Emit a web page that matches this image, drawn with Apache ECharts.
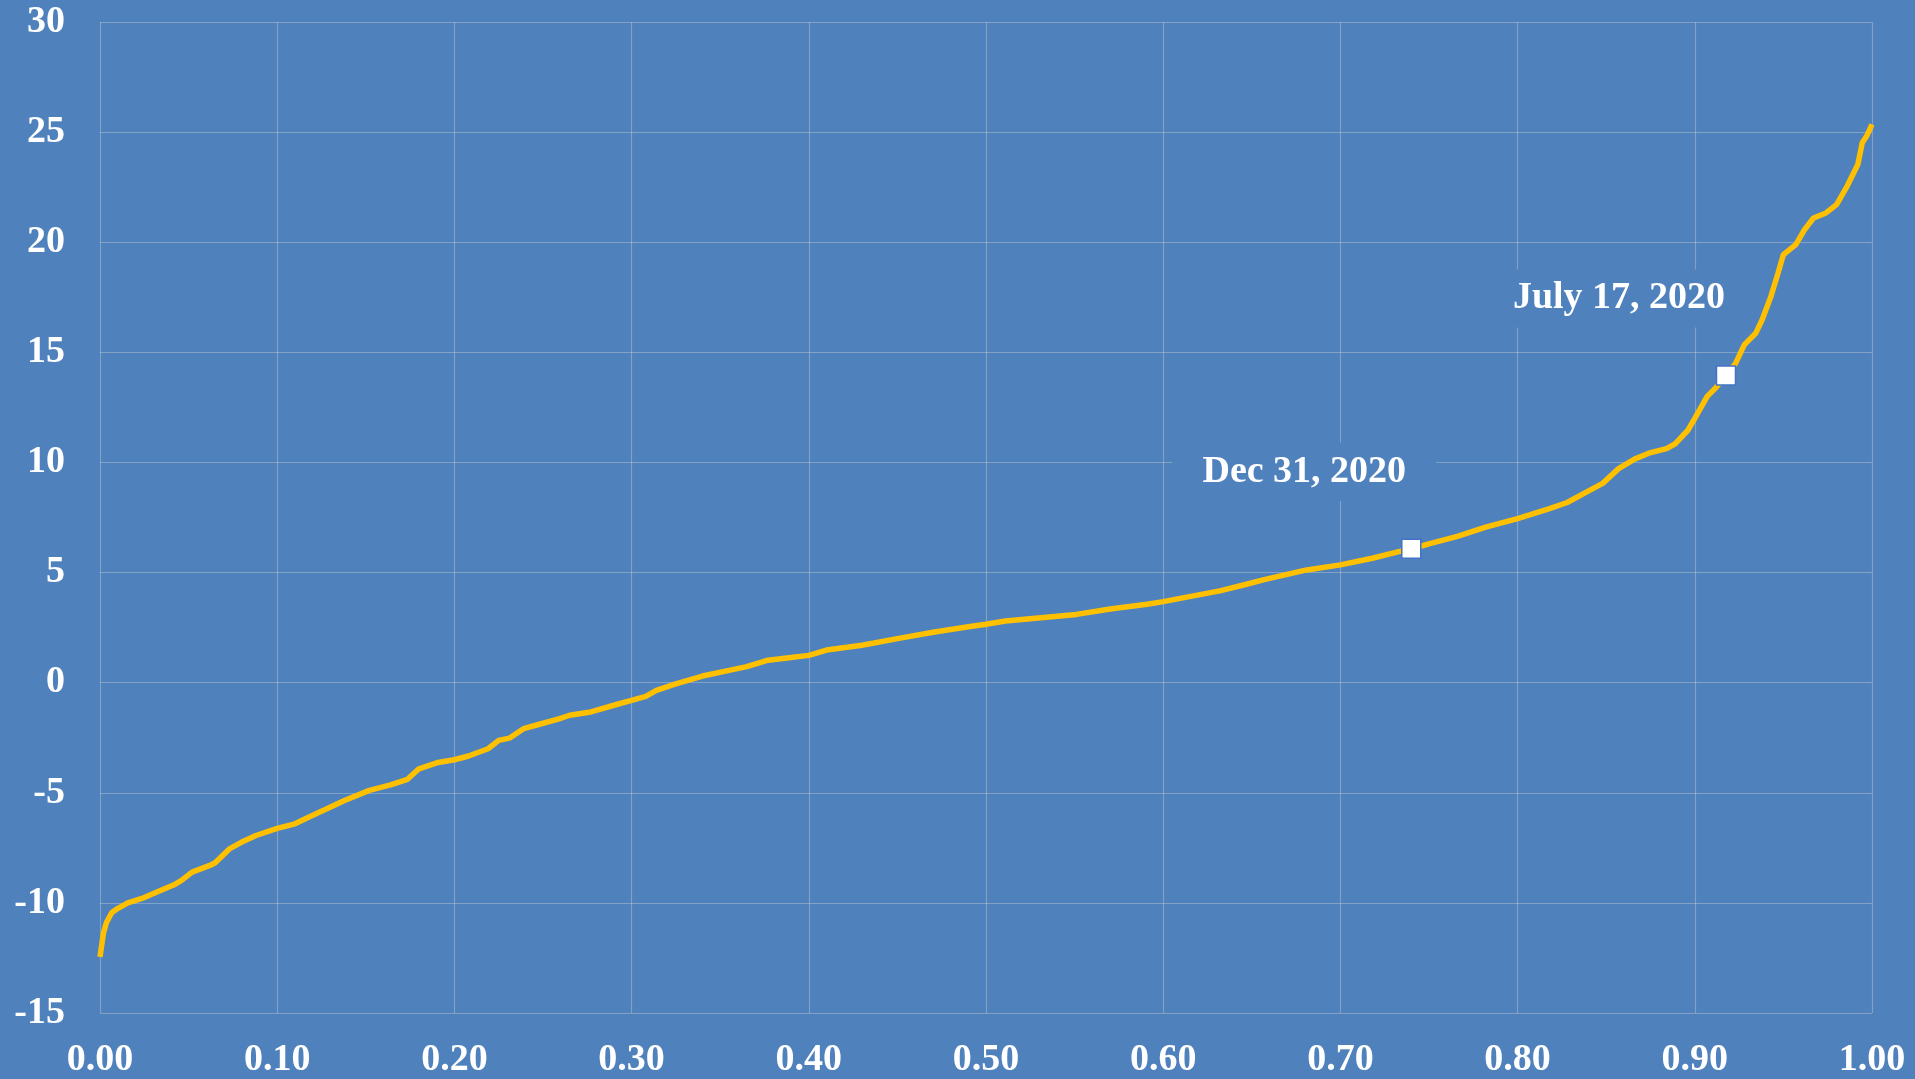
<!DOCTYPE html>
<html>
<head>
<meta charset="utf-8">
<script src="https://cdn.jsdelivr.net/npm/echarts@6/dist/echarts.min.js"></script>
<style>
html,body{margin:0;padding:0;background:#4F81BD;}
#chart{width:1915px;height:1079px;}
</style>
</head>
<body>
<div id="chart"></div>
<script>
// Share of observations (cumulative fraction)
const pct = [
0.000,0.002,0.0036,0.0066,0.0097,0.0157,0.0237,0.0318,0.0418,0.046,
0.052,0.062,0.065,0.073,0.080,0.088,0.100,0.110,0.118,0.128,
0.138,0.152,0.164,0.1735,0.180,0.190,0.200,0.208,0.219,0.225,
0.231,0.239,0.247,0.259,0.265,0.277,0.292,0.300,0.308,0.314,
0.324,0.340,0.355,0.365,0.377,0.390,0.400,0.410,0.430,0.450,
0.471,0.491,0.500,0.511,0.531,0.551,0.571,0.591,0.600,0.617,
0.632,0.647,0.657,0.681,0.700,0.718,0.733,0.740,0.750,0.766,
0.782,0.800,0.818,0.828,0.838,0.848,0.857,0.866,0.874,0.884,
0.889,0.893,0.896,0.900,0.907,0.912,0.9176,0.923,0.928,0.9345,
0.938,0.943,0.947,0.950,0.957,0.962,0.967,0.974,0.980,0.986,
0.992,0.9945,0.997,1.000
];
// Sorted values
const values = [
-12.45,-11.35,-10.9,-10.45,-10.27,-10.0,-9.8,-9.52,-9.18,-8.98,
-8.6,-8.3,-8.18,-7.55,-7.24,-6.94,-6.62,-6.41,-6.1,-5.73,
-5.35,-4.89,-4.64,-4.39,-3.91,-3.64,-3.5,-3.33,-3.0,-2.62,
-2.52,-2.09,-1.91,-1.64,-1.48,-1.33,-0.98,-0.8,-0.62,-0.35,
-0.08,0.3,0.56,0.73,1.02,1.14,1.24,1.48,1.7,2.0,
2.3,2.55,2.65,2.8,2.95,3.1,3.36,3.56,3.68,3.94,
4.17,4.47,4.68,5.12,5.35,5.65,5.95,6.08,6.3,6.64,
7.06,7.45,7.9,8.18,8.62,9.05,9.72,10.15,10.42,10.63,
10.85,11.2,11.45,12.0,13.0,13.4,13.95,14.5,15.35,15.88,
16.48,17.55,18.6,19.44,19.89,20.58,21.1,21.33,21.71,22.55,
23.53,24.52,24.82,25.35
];
// Highlighted dates
const markLabels = ['Dec 31, 2020', 'July 17, 2020'];
const markPct = [0.740, 0.9176];
const markVal = [6.08, 13.95];

const BG = '#4F81BD';
const GRID = 'rgba(210,210,210,0.40)';
const FONT = '"Liberation Serif", "DejaVu Serif", serif';

const chart = echarts.init(document.getElementById('chart'), null, {renderer: 'canvas'});
chart.setOption({
  backgroundColor: BG,
  animation: false,
  grid: {left: 100, right: 43, top: 22, bottom: 65, containLabel: false},
  xAxis: {
    type: 'value', min: 0, max: 1, interval: 0.1,
    axisLine: {show: false}, axisTick: {show: false},
    splitLine: {show: true, lineStyle: {color: GRID, width: 1.2}},
    axisLabel: {
      color: '#FFFFFF', fontFamily: FONT, fontWeight: 'bold', fontSize: 38, margin: 28,
      formatter: v => v.toFixed(2)
    }
  },
  yAxis: {
    type: 'value', min: -15, max: 30, interval: 5,
    axisLine: {show: false}, axisTick: {show: false},
    splitLine: {show: true, lineStyle: {color: GRID, width: 1.2}},
    axisLabel: {
      color: '#FFFFFF', fontFamily: FONT, fontWeight: 'bold', fontSize: 38, margin: 35
    }
  },
  series: [
    {
      // label boxes (drawn below the curve)
      type: 'scatter',
      data: markPct.map((p, i) => ({value: [p, markVal[i]], name: markLabels[i]})),
      symbol: 'rect',
      symbolSize: 2,
      itemStyle: {color: 'rgba(0,0,0,0)', opacity: 1},
      label: {
        show: true,
        position: 'inside',
        offset: [-107, -77],
        formatter: p => p.name,
        color: '#FFFFFF',
        fontFamily: FONT,
        fontWeight: 'bold',
        fontSize: 38,
        backgroundColor: BG,
        padding: [10, 30]
      },
      emphasis: {disabled: true},
      silent: true,
      z: 1
    },
    {
      type: 'line',
      data: pct.map((p, i) => [p, values[i]]),
      showSymbol: false,
      symbol: 'none',
      lineStyle: {color: '#FFC000', width: 5.5},
      z: 2
    },
    {
      type: 'scatter',
      data: markPct.map((p, i) => ({value: [p, markVal[i]], name: markLabels[i]})),
      symbol: 'rect',
      symbolSize: 19,
      itemStyle: {color: '#FFFFFF', borderColor: '#4472C4', borderWidth: 1.5, opacity: 1},
      emphasis: {disabled: true},
      z: 5
    }
  ]
});
</script>
</body>
</html>
